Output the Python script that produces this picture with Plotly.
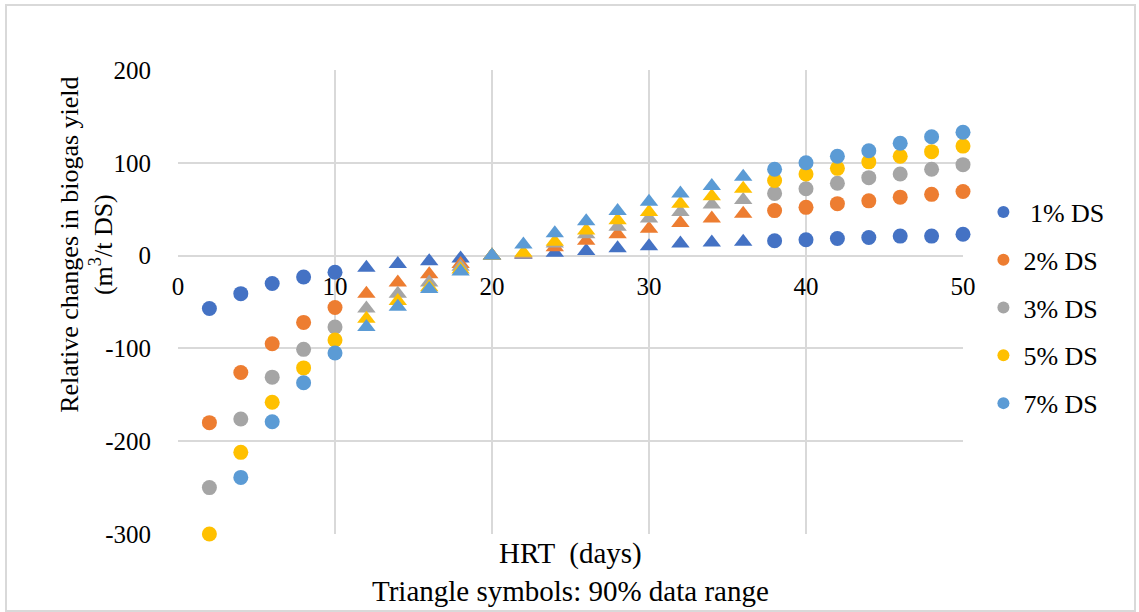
import plotly.graph_objects as go

hrt = [2, 4, 6, 8, 10, 12, 14, 16, 18, 20, 22, 24, 26, 28, 30, 32, 34, 36, 38, 40, 42, 44, 46, 48, 50]
# HRT values drawn as triangles (90% data range)
tri_range = (12, 36)

series_names = [" 1% DS", "2% DS", "3% DS", "5% DS", "7% DS"]
colors = ["#4472C4", "#ED7D31", "#A5A5A5", "#FFC000", "#5B9BD5"]

ds1 = [-57, -41, -30, -23, -18, -13, -9, -6, -3, 0, 1, 3, 5, 8, 10, 13, 14, 15, 16, 17, 18.5, 19.5, 21, 21, 23]
ds2 = [-180, -126, -95, -72, -56, -41, -29, -20, -9, 0, 1.5, 9, 16, 23, 29, 35, 40, 45, 48.5, 52, 56, 59, 63, 66, 69]
ds3 = [-250, -176, -131, -101, -77, -57, -41, -29, -12, 0, 2, 13, 23, 31, 40, 47, 55, 60, 67, 72, 78, 84, 88, 93, 98]
ds5 = [-300, -212, -158, -121, -91, -68, -49, -34, -15, 0, 3, 15, 27, 38, 47, 56, 64, 72, 81, 88, 94, 101, 107, 112, 118]
ds7 = [None, -239, -179, -137, -105, -77, -55, -36, -17, 0, 12, 24, 37, 48, 58, 67, 75, 85, 93, 100, 107, 113, 121, 128, 133]
all_series = [ds1, ds2, ds3, ds5, ds7]

x_ticks = [0, 10, 20, 30, 40, 50]
x_ticktext = ["0", "10", "20", "30", "40", "50"]
y_ticks = [-300, -200, -100, 0, 100, 200]
y_ticktext = ["-300", "-200", "-100", "0", "100", "200"]

FONT = "Liberation Serif"

fig = go.Figure()
for name, col, vals in zip(series_names, colors, all_series):
    cx, cy, tx, ty = [], [], [], []
    for x, v in zip(hrt, vals):
        if tri_range[0] <= x <= tri_range[1]:
            tx.append(x); ty.append(v)
        else:
            cx.append(x); cy.append(v)
    fig.add_trace(go.Scatter(x=cx, y=cy, mode="markers", name=name, legendgroup=name,
                             marker=dict(color=col, size=15, symbol="circle"),
                             cliponaxis=False))
    fig.add_trace(go.Scatter(x=tx, y=ty, mode="markers", name=name, legendgroup=name,
                             showlegend=False,
                             marker=dict(color=col, size=16, symbol="triangle-up"),
                             cliponaxis=False))

fig.update_layout(
    width=1139, height=612,
    margin=dict(l=178, r=176, t=70, b=78),
    paper_bgcolor="white", plot_bgcolor="white",
    font=dict(family=FONT, size=25, color="#000000"),
    xaxis=dict(range=[0, 50], tickvals=x_ticks, ticktext=x_ticktext, showgrid=True,
               gridcolor="#D9D9D9", gridwidth=2,
               zeroline=False, showline=False, anchor="free", position=0.6,
               ticks="", ticklabelstandoff=13,
               tickfont=dict(family=FONT, size=25)),
    yaxis=dict(range=[-300, 200], tickvals=y_ticks, ticktext=y_ticktext, showgrid=True,
               gridcolor="#D9D9D9", gridwidth=2,
               zeroline=True, zerolinecolor="#D9D9D9", zerolinewidth=2, showline=False,
               ticklabelstandoff=26, tickfont=dict(family=FONT, size=25)),
    legend=dict(x=1.026, y=0.487, xanchor="left", yanchor="middle", tracegroupgap=11,
                font=dict(family=FONT, size=26), itemsizing="constant", bgcolor="rgba(0,0,0,0)"),
    showlegend=True,
)

fig.add_annotation(text="Relative changes in biogas yield<br>(m<sup>3</sup>/t DS)",
                   xref="paper", yref="paper", x=-0.116, y=0.623, textangle=-90,
                   showarrow=False, font=dict(family=FONT, size=26), xanchor="center", yanchor="middle")
fig.add_annotation(text="HRT  (days)<br>Triangle symbols: 90% data range",
                   xref="paper", yref="paper", x=0.5, y=-0.002, showarrow=False,
                   font=dict(family=FONT, size=29), xanchor="center", yanchor="top")

# outer chart border
pw = 1139 - 178 - 176
ph = 612 - 70 - 78
fig.add_shape(type="rect", xref="paper", yref="paper",
              x0=(6 - 178) / pw, x1=(1135 - 178) / pw,
              y0=(534 - 611) / ph, y1=(534 - 5) / ph,
              line=dict(color="#D9D9D9", width=2), layer="below")

fig.write_html("out.html", config={"displayModeBar": False},
               post_script="document.body.style.margin='0';")
